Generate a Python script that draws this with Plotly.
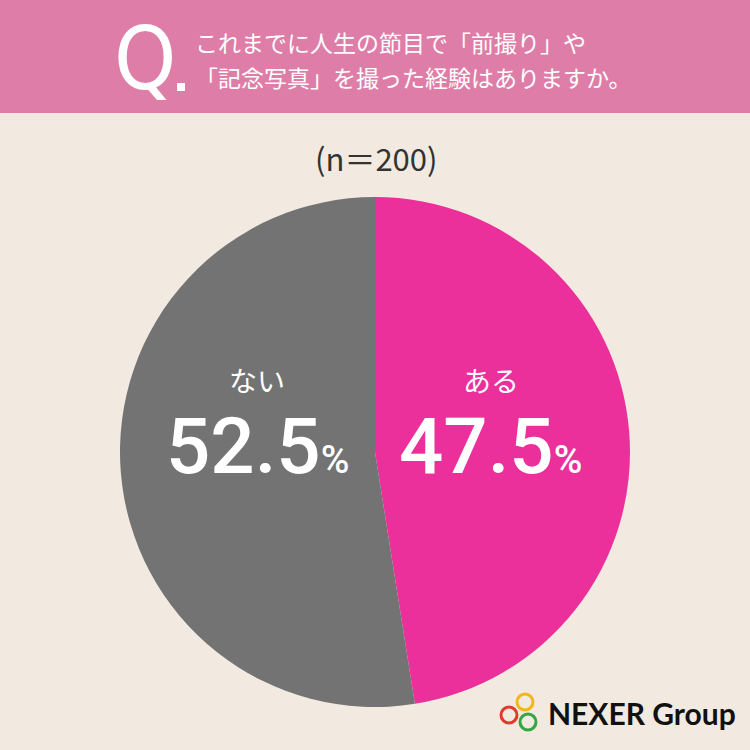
import plotly.graph_objects as go

# survey answers
labels = ['ある', 'ない']
shares = [47.5, 52.5]
slice_colors = ['#EB2F9B', '#737373']

question_lines = ['これまでに人生の節目で「前撮り」や', '「記念写真」を撮った経験はありますか。']
sample_note = '(n＝200)'

W = H = 750


def px_x(x):
    return x / W


def px_y(y):
    return 1 - y / H


fig = go.Figure()
fig.add_trace(go.Pie(
    labels=labels,
    values=shares,
    sort=False,
    direction='clockwise',
    rotation=0,
    marker=dict(colors=slice_colors, line=dict(width=0)),
    textinfo='none',
    hoverinfo='label+percent',
    showlegend=False,
    domain=dict(x=[px_x(120), px_x(630)], y=[px_y(707), px_y(197)]),
))

shapes = [
    # header band
    dict(type='rect', xref='paper', yref='paper', x0=0, x1=1, y0=px_y(113), y1=1,
         fillcolor='#DE7EA8', line=dict(width=0), layer='below'),
    # the small square after Q
    dict(type='rect', xref='paper', yref='paper', x0=px_x(177), x1=px_x(185),
         y0=px_y(91), y1=px_y(83), fillcolor='white', line=dict(width=0)),
]

# logo rings: yellow, red, green
for cx, cy, col in [(525, 702, '#F2B61C'), (509, 715, '#E23B2E'), (528, 722, '#35A645')]:
    r = 8
    shapes.append(dict(type='circle', xref='paper', yref='paper',
                       x0=px_x(cx - r), x1=px_x(cx + r), y0=px_y(cy + r), y1=px_y(cy - r),
                       line=dict(color=col, width=3)))


def label(text, x, y, size, color='white', family='Noto Sans CJK JP', xanchor='center', **kw):
    return dict(text=text, x=px_x(x), y=px_y(y), xanchor=xanchor, yanchor='middle',
                showarrow=False, font=dict(family=family, size=size, color=color, **kw))


annotations = [
    label('Q', 145, 58, 88, family='DejaVu Sans Condensed'),
    label(question_lines[0], 193, 42, 23, xanchor='left'),
    label(question_lines[1], 193, 77, 23, xanchor='left'),
    label(sample_note, 376, 157, 31, color='#333333'),
    label('NEXER Group', 546, 713, 30, color='#111111', family='Lato', xanchor='left', weight='bold'),
]

# slice labels
for name, val, cx in [(labels[0], shares[0], 491), (labels[1], shares[1], 257)]:
    annotations.append(label(name, cx, 380, 28))
    annotations.append(label(f'{val}<span style="font-size:39px">%</span>', cx, 446, 78,
                             family='Roboto', weight=500))

fig.update_layout(
    width=W, height=H,
    margin=dict(l=0, r=0, t=0, b=0),
    paper_bgcolor='#F2EAE0',
    plot_bgcolor='#F2EAE0',
    shapes=shapes,
    annotations=annotations,
)

fig.write_html('out.html', config={'displayModeBar': False},
               post_script="document.body.style.margin='0';")
